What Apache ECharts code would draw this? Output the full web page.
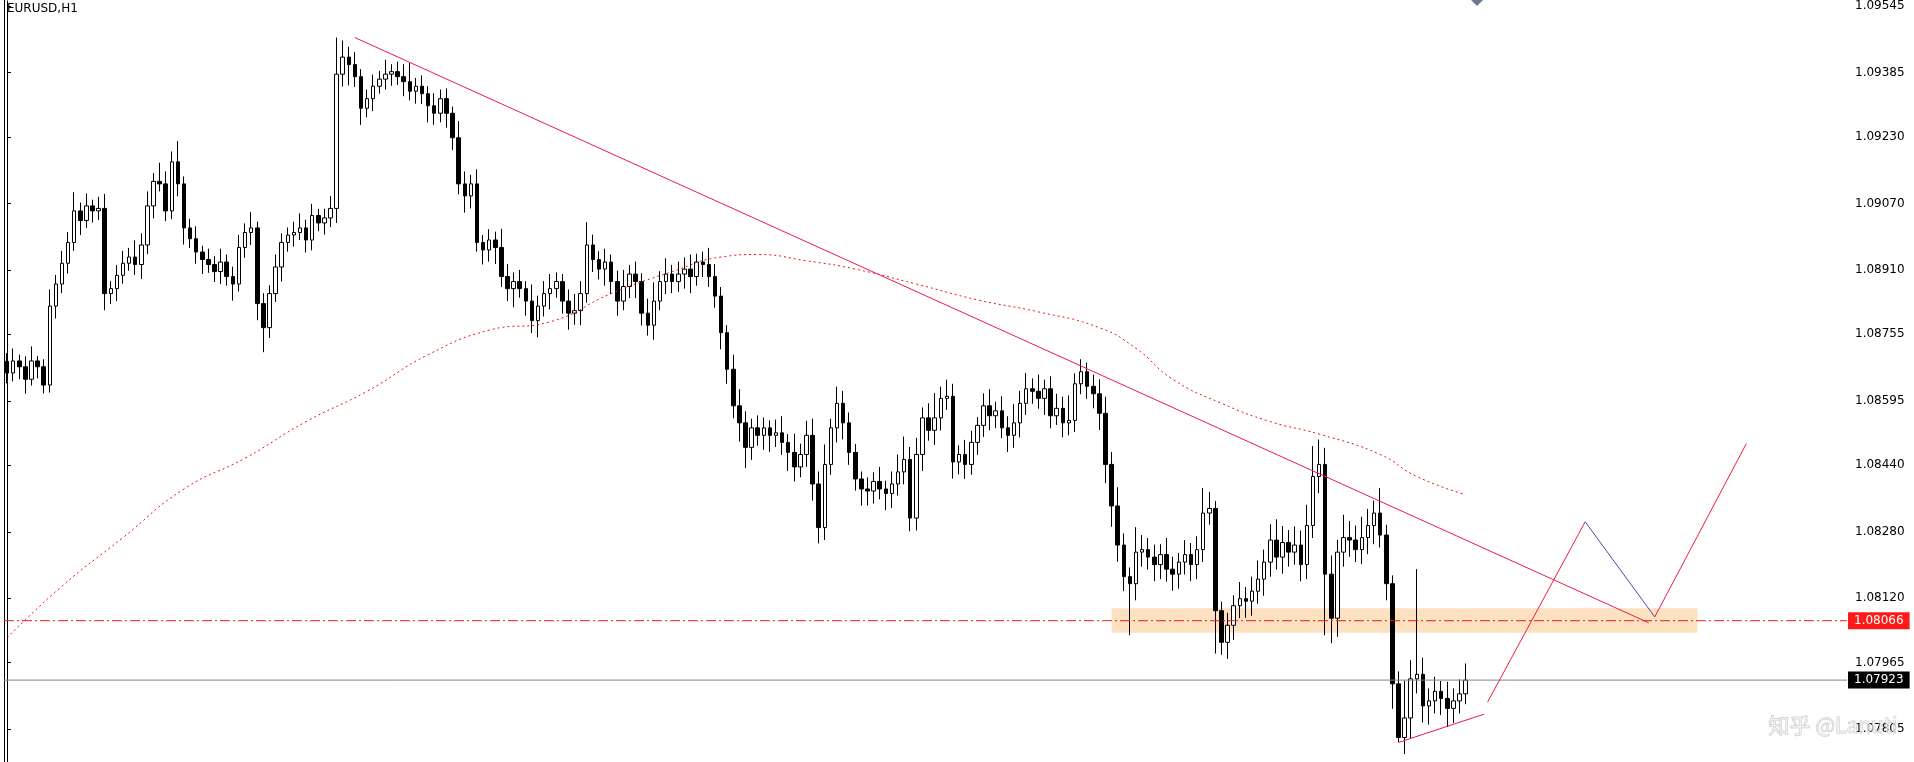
<!DOCTYPE html>
<html lang="en">
<head>
  <meta charset="UTF-8">
  <title>EURUSD,H1</title>
  <script src="https://cdn.jsdelivr.net/npm/echarts@6/dist/echarts.min.js"></script>
  <style>html,body{margin:0;padding:0;background:#fff;}</style>
</head>
<body>
  <div id="chart" style="width:1914px;height:762px;"></div>
</body>
</html>
<script type="text/javascript">
  // closing prices per bar (H1)
  const closes = [
    1.08662, 1.08691, 1.08677, 1.08647, 1.08691, 1.08677, 1.08633, 1.08823, 1.08876, 1.08926,
    1.08976, 1.09052, 1.09029, 1.09064, 1.09052, 1.09058, 1.08853, 1.08865, 1.08897, 1.08926,
    1.08941, 1.08923, 1.08970, 1.09064, 1.09123, 1.09117, 1.09052, 1.09170, 1.09117, 1.09011,
    1.08985, 1.08953, 1.08935, 1.08923, 1.08906, 1.08929, 1.08894, 1.08876, 1.08964, 1.09000,
    1.09011, 1.08829, 1.08771, 1.08853, 1.08917, 1.08976, 1.08994, 1.09000, 1.09011, 1.08982,
    1.09041, 1.09023, 1.09035, 1.09058, 1.09381, 1.09422, 1.09404, 1.09375, 1.09299, 1.09322,
    1.09352, 1.09369, 1.09381, 1.09387, 1.09375, 1.09363, 1.09340, 1.09352, 1.09334, 1.09305,
    1.09287, 1.09322, 1.09287, 1.09228, 1.09117, 1.09088, 1.09117, 1.08976, 1.08958, 1.08982,
    1.08964, 1.08894, 1.08865, 1.08882, 1.08865, 1.08835, 1.08788, 1.08823, 1.08853, 1.08865,
    1.08882, 1.08835, 1.08806, 1.08812, 1.08853, 1.08970, 1.08935, 1.08912, 1.08929, 1.08882,
    1.08835, 1.08870, 1.08900, 1.08882, 1.08806, 1.08777, 1.08835, 1.08882, 1.08900, 1.08882,
    1.08900, 1.08912, 1.08894, 1.08929, 1.08923, 1.08894, 1.08847, 1.08759, 1.08671, 1.08583,
    1.08542, 1.08483, 1.08530, 1.08512, 1.08530, 1.08512, 1.08518, 1.08495, 1.08471, 1.08436,
    1.08466, 1.08512, 1.08395, 1.08290, 1.08442, 1.08530, 1.08589, 1.08542, 1.08471, 1.08407,
    1.08383, 1.08378, 1.08401, 1.08383, 1.08372, 1.08395, 1.08424, 1.08454, 1.08313, 1.08466,
    1.08554, 1.08524, 1.08554, 1.08601, 1.08606, 1.08448, 1.08466, 1.08442, 1.08495, 1.08536,
    1.08583, 1.08559, 1.08571, 1.08530, 1.08512, 1.08542, 1.08589, 1.08624, 1.08618, 1.08601,
    1.08624, 1.08559, 1.08577, 1.08542, 1.08548, 1.08636, 1.08665, 1.08630, 1.08612, 1.08565,
    1.08442, 1.08342, 1.08248, 1.08172, 1.08155, 1.08231, 1.08237, 1.08219, 1.08201, 1.08225,
    1.08190, 1.08178, 1.08207, 1.08225, 1.08201, 1.08237, 1.08325, 1.08336, 1.08090, 1.08014,
    1.08055, 1.08102, 1.08119, 1.08113, 1.08137, 1.08166, 1.08207, 1.08260, 1.08219, 1.08254,
    1.08231, 1.08248, 1.08201, 1.08295, 1.08413, 1.08442, 1.08178, 1.08072, 1.08231, 1.08266,
    1.08260, 1.08237, 1.08266, 1.08295, 1.08325, 1.08272, 1.08155, 1.07914, 1.07785, 1.07832,
    1.07926, 1.07937, 1.07861, 1.07873, 1.07896, 1.07879, 1.07855, 1.07873, 1.07890, 1.07923
  ];
  // upper / lower shadow length per bar, in points (0.00001)
  const wickUp = [
    20, 30, 15, 25, 35, 12, 18, 40, 22, 30, 25, 45, 20, 30, 15, 28, 35, 18, 25, 30,
    22, 40, 28, 35, 20, 45, 30, 25, 50, 18, 22, 30, 15, 26, 20, 32, 18, 24, 30, 22,
    38, 15, 25, 20, 30, 22, 18, 26, 35, 20, 28, 16, 22, 30, 88, 40, 25, 30, 18, 22,
    28, 20, 35, 18, 24, 30, 45, 20, 26, 18, 30, 22, 25, 16, 40, 30, 22, 35, 18, 26,
    20, 45, 30, 22, 28, 18, 40, 25, 30, 35, 22, 18, 28, 40, 30, 55, 25, 20, 32, 18,
    26, 40, 22, 30, 20, 35, 45, 25, 38, 22, 30, 28, 35, 20, 25, 40, 30, 22, 18, 35,
    40, 28, 22, 30, 25, 18, 32, 40, 20, 45, 26, 35, 40, 30, 48, 22, 40, 30, 25, 20,
    18, 28, 22, 35, 20, 30, 42, 55, 30, 40, 25, 35, 60, 28, 40, 30, 22, 35, 28, 20,
    30, 40, 22, 35, 28, 45, 30, 38, 25, 40, 22, 30, 35, 28, 60, 25, 30, 22, 28, 35,
    40, 30, 45, 28, 22, 60, 35, 28, 30, 25, 40, 30, 22, 35, 28, 32, 60, 40, 18, 22,
    30, 25, 40, 28, 35, 45, 30, 38, 50, 40, 30, 45, 35, 50, 73, 60, 40, 45, 30, 55,
    40, 35, 50, 40, 30, 60, 25, 20, 30, 90, 45, 253, 40, 30, 35, 25, 40, 30, 35, 40
  ];
  const wickDn = [
    25, 20, 30, 35, 15, 28, 20, 18, 30, 22, 25, 20, 35, 18, 28, 22, 40, 25, 30, 20,
    18, 25, 35, 22, 30, 18, 25, 20, 30, 40, 22, 28, 35, 20, 25, 30, 22, 40, 18, 25,
    30, 40, 59, 25, 20, 35, 22, 28, 18, 30, 25, 20, 28, 22, 35, 30, 50, 25, 40, 22,
    30, 18, 25, 28, 20, 35, 22, 30, 25, 40, 28, 22, 35, 30, 25, 40, 30, 22, 35, 28,
    40, 25, 30, 45, 22, 35, 30, 40, 25, 38, 22, 30, 40, 28, 35, 22, 30, 25, 40, 30,
    35, 22, 28, 40, 30, 25, 35, 22, 30, 28, 25, 35, 40, 22, 30, 25, 28, 40, 35, 30,
    45, 50, 30, 25, 35, 40, 28, 30, 45, 35, 25, 30, 40, 38, 30, 25, 35, 40, 30, 28,
    40, 35, 30, 25, 40, 35, 28, 30, 32, 30, 40, 25, 35, 30, 28, 40, 30, 35, 25, 30,
    28, 35, 30, 25, 40, 30, 35, 28, 30, 25, 40, 30, 22, 35, 30, 28, 25, 30, 35, 40,
    45, 50, 40, 35, 124, 40, 35, 30, 40, 35, 30, 40, 35, 30, 40, 35, 30, 28, 103, 30,
    40, 35, 30, 40, 35, 30, 40, 35, 30, 40, 35, 30, 40, 35, 30, 40, 147, 60, 45, 35,
    40, 30, 35, 40, 45, 30, 40, 60, 12, 40, 50, 35, 40, 45, 30, 40, 45, 35, 30, 25
  ];
  const firstOpen = 1.08690;
  const yTicks = [1.07805, 1.07965, 1.08120, 1.08280, 1.08440, 1.08595, 1.08755, 1.08910, 1.09070, 1.09230, 1.09385, 1.09545];
  // moving average read at every 10th bar: [bar, price]
  const maPoints = [
    [0, 1.08025], [9, 1.08149], [19, 1.08266], [29, 1.08383], [39, 1.08457], [49, 1.08545],
    [59, 1.08618], [69, 1.08706], [79, 1.08765], [89, 1.08785], [99, 1.08853], [109, 1.08906],
    [117, 1.08941], [123, 1.08947], [131, 1.08932], [139, 1.08912], [149, 1.08876], [159, 1.08838],
    [169, 1.08809], [179, 1.08771], [185, 1.08721], [191, 1.08647], [199, 1.08589], [207, 1.08545],
    [215, 1.08515], [225, 1.08466], [231, 1.08413], [239, 1.08369]
  ];
  const trendLine = [[57, 1.09469], [269, 1.08061]];
  const supportLine = [[228, 1.07773], [242, 1.07841]];
  const projUp1 = [[242.6, 1.07870], [258.6, 1.08304]];
  const projDown = [[258.6, 1.08304], [270, 1.08075]];
  const projUp2 = [[270, 1.08075], [285, 1.08492]];
  const zone = { from: 181.4, to: 277, low: 1.08037, high: 1.08096 };
  const levelPrice = 1.08066;
  const lastPrice = 1.07923;
  const slots = 302;

  const cats = [];
  for (let i = 0; i < slots; i++) cats.push(String(i));
  const candles = [];
  let prev = firstOpen;
  for (let i = 0; i < closes.length; i++) {
    const o = prev, c = closes[i];
    const hi = Math.max(o, c) + wickUp[i] / 100000;
    const lo = Math.min(o, c) - wickDn[i] / 100000;
    candles.push([o, c, +lo.toFixed(5), +hi.toFixed(5)]);
    prev = c;
  }

  const chart = echarts.init(document.getElementById('chart'));
  const lineBase = { type: 'line', xAxisIndex: 1, symbol: 'none', silent: true, z: 5 };
  const priceTag = (price, bg) => ({
    show: true, position: 'end', distance: 1, formatter: price.toFixed(5),
    color: '#fff', backgroundColor: bg, padding: [3, 6, 2, 6], fontSize: 12
  });
  const option = {
    animation: false,
    textStyle: { fontFamily: 'DejaVu Sans' },
    grid: { left: 4, right: 67, top: 0, bottom: 0 },
    xAxis: [
      { type: 'category', data: cats, boundaryGap: true, show: false },
      { type: 'value', min: -0.5, max: slots - 0.5, show: false }
    ],
    yAxis: {
      type: 'value', position: 'right', min: 1.07726, max: 1.09557, scale: true,
      splitLine: { show: false },
      axisLine: { show: true, lineStyle: { color: '#000' } },
      axisTick: { show: true, length: 4, lineStyle: { color: '#000' }, customValues: yTicks },
      axisLabel: { color: '#000', fontSize: 12, margin: 8, customValues: yTicks, formatter: v => v.toFixed(5) }
    },
    graphic: [
      { type: 'text', left: 7, top: 3, style: { text: 'EURUSD,H1', fill: '#000', font: '12px "DejaVu Sans"' } },
      { type: 'line', shape: { x1: 4.5, y1: 0, x2: 4.5, y2: 762 }, style: { stroke: '#000', lineWidth: 1 } },
      { type: 'polygon', shape: { points: [[1471, 0], [1483, 0], [1477, 6]] }, style: { fill: '#6d7a8c' } },
      { type: 'text', left: 1768, top: 714, z: 100, style: { text: '知乎 @Lanuti', fill: 'rgba(255,255,255,0.5)', stroke: '#c8c8c8', lineWidth: 1, font: '21px "Noto Sans CJK SC"' } }
    ],
    series: [
      {
        type: 'candlestick', data: candles, barWidth: 4,
        itemStyle: { color: '#fff', color0: '#000', borderColor: '#000', borderColor0: '#000', borderWidth: 1 },
        markArea: {
          silent: true,
          itemStyle: { color: 'rgba(252,205,150,0.6)' },
          data: [[{ xAxis: String(Math.round(zone.from)), yAxis: zone.high }, { xAxis: String(Math.round(zone.to)), yAxis: zone.low }]]
        }
      },
      Object.assign({}, lineBase, {
        data: [[-0.5, levelPrice], [slots - 0.5, levelPrice]], z: 3,
        lineStyle: { color: '#e0201a', width: 1, type: [10, 3, 2, 3] },
        endLabel: priceTag(levelPrice, '#ff1a1a')
      }),
      Object.assign({}, lineBase, {
        data: [[-0.5, lastPrice], [slots - 0.5, lastPrice]], z: 3,
        lineStyle: { color: '#7c8694', width: 1 },
        endLabel: priceTag(lastPrice, '#000')
      }),
      Object.assign({}, lineBase, { data: maPoints, smooth: true, lineStyle: { color: '#ee1111', width: 1, type: [2, 3] } }),
      Object.assign({}, lineBase, { data: trendLine, lineStyle: { color: '#e8184f', width: 1 } }),
      Object.assign({}, lineBase, { data: supportLine, lineStyle: { color: '#e8184f', width: 1 } }),
      Object.assign({}, lineBase, { data: projUp1, lineStyle: { color: '#ee1c3a', width: 1 } }),
      Object.assign({}, lineBase, { data: projDown, lineStyle: { color: '#4a4aa8', width: 1 } }),
      Object.assign({}, lineBase, { data: projUp2, lineStyle: { color: '#ee1c3a', width: 1 } })
    ]
  };
  chart.setOption(option);
</script>
